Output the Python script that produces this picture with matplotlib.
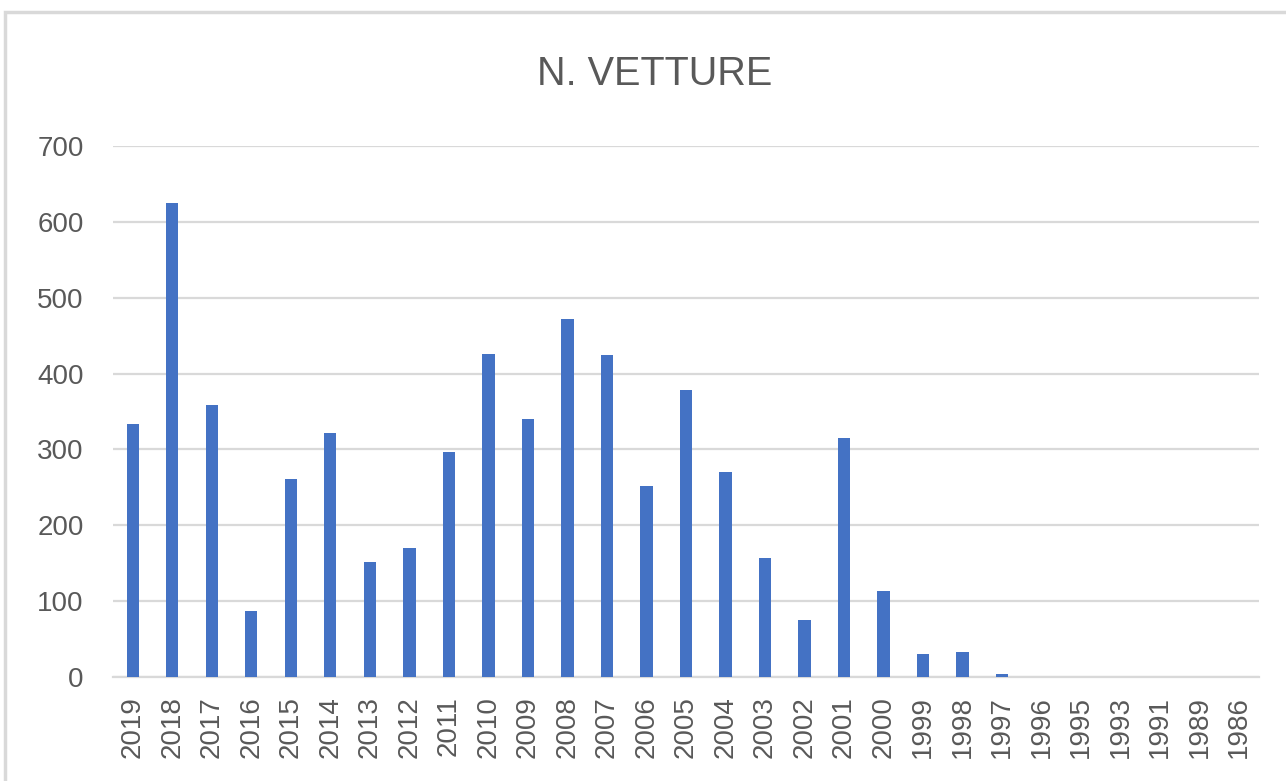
import matplotlib
matplotlib.use("Agg")
import matplotlib.pyplot as plt
from matplotlib.patches import Rectangle

years = ["2019", "2018", "2017", "2016", "2015", "2014", "2013", "2012", "2011", "2010",
         "2009", "2008", "2007", "2006", "2005", "2004", "2003", "2002", "2001", "2000",
         "1999", "1998", "1997", "1996", "1995", "1993", "1991", "1989", "1986"]
vetture = [333, 625, 358, 87, 261, 322, 152, 170, 297, 426,
           340, 472, 424, 252, 379, 270, 157, 75, 315, 113,
           30, 33, 4, 0, 0, 0, 0, 0, 0]
title = "N. VETTURE"

plt.rcParams['font.family'] = ['Liberation Sans', 'DejaVu Sans']

fig = plt.figure(figsize=(12.86, 7.81), dpi=100)
fig.patch.set_facecolor("white")
fig.patches.append(Rectangle((5/1286, -0.05), 1.2, (781-12)/781 + 0.05, transform=fig.transFigure,
                             fill=False, edgecolor="#d9d9d9", linewidth=2.5))

ax = fig.add_axes([113/1286, 1-677/781, (1259-113)/1286, (677-146)/781])
x = list(range(len(years)))
ax.bar(x, vetture, width=0.31, color="#4472c4", zorder=3)
ax.set_xlim(-0.5, len(years)-0.5)
ax.set_ylim(0, 700)
ax.set_yticks(range(0, 701, 100))
ax.set_xticks(x)
ax.set_xticklabels(years, rotation=90)
ax.grid(axis="y", color="#d9d9d9", linewidth=1.6, zorder=0)
for s in ["top", "right", "left"]:
    ax.spines[s].set_visible(False)
ax.spines["bottom"].set_color("#d9d9d9")
ax.spines["bottom"].set_linewidth(1.6)
ax.tick_params(axis="both", length=0, labelsize=20, labelcolor="#595959")
ax.tick_params(axis="y", pad=21)
ax.tick_params(axis="x", pad=14)
fig.text(655/1286, 1-74/781, title, ha="center", va="center", fontsize=28.5, color="#595959")

fig.savefig("out.png", dpi=100)
